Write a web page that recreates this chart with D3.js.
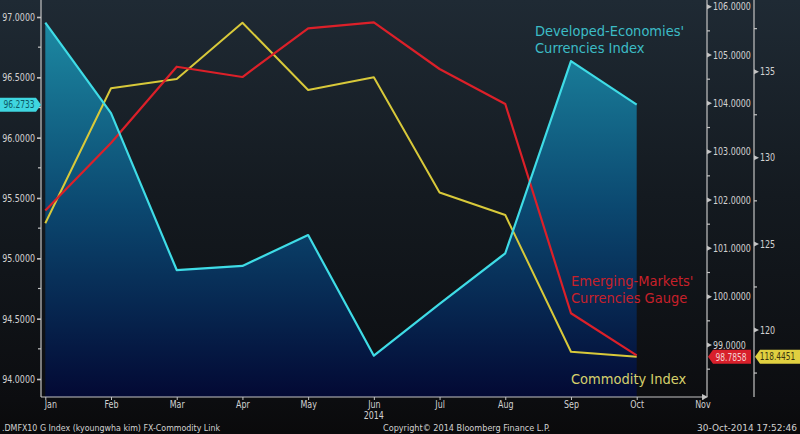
<!DOCTYPE html>
<html><head><meta charset="utf-8">
<script src="https://cdn.jsdelivr.net/npm/d3@7"></script>
<style>
html,body{margin:0;padding:0;background:#0c0d0f;}
svg{display:block;}
text{font-family:"DejaVu Sans Condensed","DejaVu Sans",sans-serif;}
</style></head>
<body>
<svg id="chart" width="800" height="434"></svg>
<script>
const months = ["Jan","Feb","Mar","Apr","May","Jun","Jul","Aug","Sep","Oct","Nov"];
const dataMonths = ["Jan","Feb","Mar","Apr","May","Jun","Jul","Aug","Sep","Oct"];
const developed = [96.953, 96.204, 94.903, 94.937, 95.193, 94.193, 94.622, 95.042, 96.635, 96.2733];
const emerging  = [101.783, 103.18, 104.758, 104.545, 105.553, 105.677, 104.711, 103.987, 99.656, 98.7858];
const commodity = [126.196, 134.036, 134.576, 137.846, 133.937, 134.675, 127.985, 126.678, 118.740, 118.4451];
const leftTicks = [94, 94.5, 95, 95.5, 96, 96.5, 97];
const leftMinor = [94.25, 94.75, 95.25, 95.75, 96.25, 96.75];
const redTicks = [99, 100, 101, 102, 103, 104, 105, 106];
const redMinor = [98.5, 99.5, 100.5, 101.5, 102.5, 103.5, 104.5, 105.5];
const comTicks = [120, 125, 130, 135];
const comMinor = [117.5, 122.5, 127.5, 132.5, 137.5];

const svg = d3.select("#chart");
const axisX = 41, redX = 707, comX = 754, baseY = 397;

const x = d3.scalePoint().domain(months).range([45.3, 702.4]);
const yL = d3.scaleLinear().domain([93.8508, 97.1409]).range([baseY, 0]);
const yR = d3.scaleLinear().domain([97.924, 106.1386]).range([baseY, 0]);
const yC = d3.scaleLinear().domain([116.109, 139.164]).range([baseY, 0]);

// squeeze text horizontally (condensed look)
function squeeze(sel, f) {
  sel.each(function() {
    const w = this.getComputedTextLength();
    if (w > 0) d3.select(this).attr("textLength", w * f).attr("lengthAdjust", "spacingAndGlyphs");
  });
}

const defs = svg.append("defs");
const bg = defs.append("linearGradient").attr("id","bg").attr("x1",0).attr("y1",0).attr("x2",0).attr("y2",1);
bg.append("stop").attr("offset","0%").attr("stop-color","#1f2a34");
bg.append("stop").attr("offset","45%").attr("stop-color","#141a20");
bg.append("stop").attr("offset","92%").attr("stop-color","#0c0d10");
bg.append("stop").attr("offset","100%").attr("stop-color","#0a0a0b");
const ag = defs.append("linearGradient").attr("id","area").attr("gradientUnits","userSpaceOnUse")
  .attr("x1",0).attr("y1",17).attr("x2",0).attr("y2",baseY);
ag.append("stop").attr("offset","0%").attr("stop-color","#1d8ba4");
ag.append("stop").attr("offset","50%").attr("stop-color","#0b4870");
ag.append("stop").attr("offset","100%").attr("stop-color","#030934");

svg.append("rect").attr("width",800).attr("height",434).attr("fill","url(#bg)");

// area under developed
const devData = dataMonths.map((m,i)=>({m, v: developed[i]}));
svg.append("path").datum(devData)
  .attr("d", d3.area().x(d=>x(d.m)).y0(baseY).y1(d=>yL(d.v)))
  .attr("fill","url(#area)");

const lineOf = (arr, ys) => d3.line().x((d,i)=>x(dataMonths[i])).y(d=>ys(d))(arr);
svg.append("path").attr("d", lineOf(commodity, yC)).attr("fill","none").attr("stroke","#d8c93a").attr("stroke-width",2).attr("stroke-linejoin","round");
svg.append("path").attr("d", lineOf(emerging, yR)).attr("fill","none").attr("stroke","#dc2029").attr("stroke-width",2.2).attr("stroke-linejoin","round");
svg.append("path").attr("d", lineOf(developed, yL)).attr("fill","none").attr("stroke","#3fdce6").attr("stroke-width",2.2).attr("stroke-linejoin","round");

const axisCol = "#c4c4c4", txtCol = "#d2d2d2";

// left axis
const gl = svg.append("g").attr("transform",`translate(${axisX},0)`)
  .call(d3.axisLeft(yL).tickValues(leftTicks).tickFormat(d3.format(".4f")).tickSize(4).tickPadding(2));
gl.select(".domain").remove();
gl.selectAll(".tick line").attr("stroke",axisCol).attr("stroke-width",1.6);
gl.selectAll(".tick text").attr("fill",txtCol).attr("font-size",10.5).style("font-family",null)
  .call(squeeze, 0.84);
gl.selectAll(".minor").data(leftMinor).enter().append("line").attr("class","minor")
  .attr("x1",-3).attr("x2",0).attr("y1",d=>yL(d)).attr("y2",d=>yL(d)).attr("stroke",axisCol).attr("stroke-width",1.2);
svg.append("line").attr("x1",axisX).attr("x2",axisX).attr("y1",0).attr("y2",baseY).attr("stroke",axisCol).attr("stroke-width",1.2);

// x axis
const gx = svg.append("g").attr("transform",`translate(0,${baseY})`)
  .call(d3.axisBottom(x).tickSize(3).tickPadding(1));
gx.select(".domain").remove();
gx.selectAll(".tick line").attr("stroke",axisCol);
gx.selectAll(".tick text").attr("fill",txtCol).attr("font-size",10).style("font-family",null)
  .attr("dx", d => d==="Jan" ? 5 : 0).call(squeeze, 0.88);
svg.append("line").attr("x1",axisX).attr("x2",redX-2).attr("y1",baseY).attr("y2",baseY).attr("stroke",axisCol).attr("stroke-width",1.2);
svg.append("path").attr("d",`M${redX-5},${baseY-3}L${redX+1},${baseY}L${redX-5},${baseY+3}Z`).attr("fill",axisCol);
svg.append("text").attr("x",x("Jun")).attr("y",419).attr("text-anchor","middle").attr("fill",txtCol).attr("font-size",10).text("2014").call(squeeze, 0.88);

// right axes
function rightAxis(xPos, scale, ticks, minor, fmt) {
  const g = svg.append("g").attr("transform",`translate(${xPos},0)`);
  g.append("line").attr("x1",0).attr("x2",0).attr("y1",0).attr("y2",baseY).attr("stroke",axisCol).attr("stroke-width",1.2);
  g.selectAll(".maj").data(ticks).enter().append("path").attr("class","maj")
    .attr("d",d=>`M0,${scale(d)-2.5}L5,${scale(d)}L0,${scale(d)+2.5}Z`).attr("fill",axisCol);
  g.selectAll(".min").data(minor).enter().append("line").attr("class","min")
    .attr("x1",0).attr("x2",3).attr("y1",d=>scale(d)).attr("y2",d=>scale(d)).attr("stroke",axisCol).attr("stroke-width",1.2);
  g.selectAll(".lab").data(ticks).enter().append("text").attr("class","lab")
    .attr("x",6).attr("y",d=>scale(d)).attr("dy","0.35em").attr("fill",txtCol).attr("font-size",10.5)
    .text(fmt).call(squeeze, 0.84);
}
rightAxis(redX, yR, redTicks, redMinor, d3.format(".4f"));
rightAxis(comX, yC, comTicks, comMinor, d3.format("d"));

// value flags
function flag(xl, xr, yc, tipLeft, fill, tcol, label, cx, fs) {
  const h = 7;
  let d;
  if (tipLeft) d = `M${xl},${yc}L${xl+5},${yc-h}L${xr},${yc-h}L${xr},${yc+h}L${xl+5},${yc+h}Z`;
  else d = `M${xl},${yc-h}L${xr-5},${yc-h}L${xr},${yc}L${xr-5},${yc+h}L${xl},${yc+h}Z`;
  svg.append("path").attr("d",d).attr("fill",fill);
  svg.append("text").attr("transform",`translate(${cx},${yc}) scale(0.8,1)`).attr("dy","0.35em").attr("text-anchor","middle")
    .attr("fill",tcol).attr("font-size",fs).text(label);
}
flag(0, 41, yL(developed[9]), false, "#3fd6e0", "#0c5a66", d3.format(".4f")(developed[9]), 19, 10.5);
flag(708, 751, yR(emerging[9]) + 1.5, true, "#d8202b", "#f4d0d0", d3.format(".4f")(emerging[9]), 731, 10.5);
flag(755, 800, yR(emerging[9]) + 1.5, true, "#e0d040", "#3a3410", d3.format(".4f")(commodity[9]), 777.5, 10.3);

// annotations
const ann = (xp, yp, col, lines) => {
  const t = svg.append("text").attr("x",xp).attr("y",yp).attr("fill",col).attr("font-size",14.5);
  lines.forEach((l,i)=>t.append("tspan").attr("x",xp).attr("dy", i===0?0:17).text(l));
};
ann(535, 36, "#3cbcc6", ["Developed-Economies'", "Currencies Index"]);
ann(571, 286, "#c8202a", ["Emerging-Markets'", "Currencies Gauge"]);
ann(571, 384, "#d6d06c", ["Commodity Index"]);

// footer
const fit = (sel, w) => sel.attr("textLength", w).attr("lengthAdjust","spacingAndGlyphs");
svg.append("text").attr("x",2).attr("y",431).attr("fill",txtCol).attr("font-size",9.5).text(".DMFX10 G Index (kyoungwha kim) FX-Commodity Link").call(fit, 218);
svg.append("text").attr("x",383).attr("y",431).attr("fill",txtCol).attr("font-size",9.5).text("Copyright\u00a9 2014 Bloomberg Finance L.P.").call(fit, 167);
svg.append("text").attr("x",697).attr("y",431).attr("fill",txtCol).attr("font-size",9.5).text("30-Oct-2014 17:52:46").call(fit, 100);
</script>
</body></html>
